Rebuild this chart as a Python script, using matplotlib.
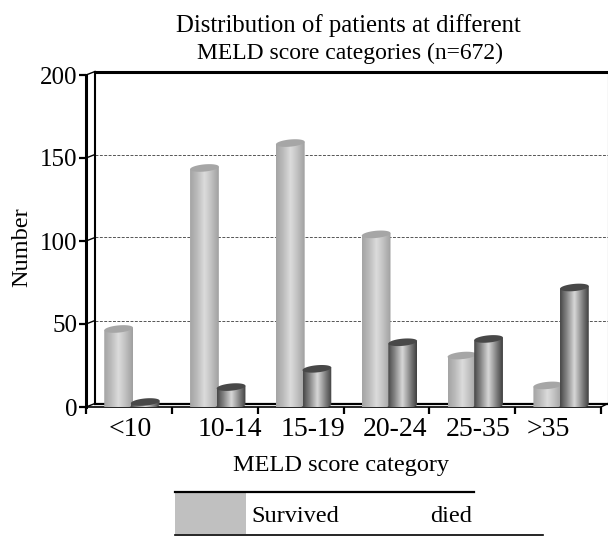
import numpy as np
import matplotlib
matplotlib.use("Agg")
import matplotlib.pyplot as plt
from matplotlib.patches import Polygon
from matplotlib.colors import LinearSegmentedColormap

plt.rcParams['font.family'] = ['Liberation Serif', 'DejaVu Serif']

categories = ['<10', '10-14', '15-19', '20-24', '25-35', '>35']
survived = [45, 142, 157, 102, 29, 11]
died = [1, 10, 21, 37, 39, 70]
y_ticks = [0, 50, 100, 150, 200]
grid_levels = [50, 100, 150]
label_px = [130, 230, 313, 395, 478, 548]

W, H = 608, 536
fig = plt.figure(figsize=(W/100, H/100), dpi=100)
x0, x1, y0, y1 = 86, 601, 407, 75
ax = fig.add_axes([x0/W, 1-y0/H, (x1-x0)/W, (y0-y1)/H])
ax.set_xlim(0, 6)
ax.set_ylim(0, 200)
ax.patch.set_alpha(0)
for s in ax.spines.values():
    s.set_visible(False)

dx, dy = 9/86, 3.5*200/332   # depth offset of the back wall
xr = 6 + 7/86

# wall + floor
ax.plot([dx, dx], [dy, 200+dy], color='k', lw=1.5, clip_on=False, zorder=2)
ax.plot([dx, xr], [200+dy, 200+dy], color='k', lw=2.2, clip_on=False, zorder=2)
ax.plot([xr, xr], [dy, 200+dy], color='#777777', lw=0.8, clip_on=False, zorder=1)
ax.plot([0, 0], [0, 200], color='k', lw=2.2, clip_on=False, zorder=2)
ax.plot([0, 6], [0, 0], color='k', lw=1.2, clip_on=False, zorder=2)
ax.plot([dx, xr], [dy, dy], color='k', lw=1.6, clip_on=False, zorder=2)
ax.plot([6, xr], [0, dy], color='k', lw=1, clip_on=False, zorder=2)
for v in grid_levels:
    ax.plot([dx, xr], [v+dy, v+dy], color='#555555', lw=0.7,
            dashes=(3, 1.5), clip_on=False, zorder=1)
for v in y_ticks:
    ax.plot([0, dx], [v, v+dy], color='k', lw=1, clip_on=False, zorder=2)

ax.set_yticks(y_ticks)
ax.set_xticks(range(7))
ax.set_xticklabels([])
ax.tick_params(axis='both', length=5, width=1.6, labelsize=18, pad=1)
ax.tick_params(axis='x', direction='out')

for c, px in zip(categories, label_px):
    fig.text(px/W, 1-430/H, c, ha='center', va='center', fontsize=20)

fig.text(348/W, 1-26/H, 'Distribution of patients at different', ha='center', va='center', fontsize=17.8)
fig.text(350/W, 1-53/H, 'MELD score categories (n=672)', ha='center', va='center', fontsize=17)
fig.text(341/W, 1-466/H, 'MELD score category', ha='center', va='center', fontsize=17.5)
fig.text(22/W, 1-247/H, 'Number', rotation=90, ha='center', va='center', fontsize=17.5)

# cylinders
cm_s = LinearSegmentedColormap.from_list('s', ['#a4a4a4', '#bcbcbc', '#dcdcdc', '#c0c0c0', '#a0a0a0'])
cm_d = LinearSegmentedColormap.from_list('d', ['#484848', '#8c8c8c', '#d8d8d8', '#8a8a8a', '#404040'])
grad = np.linspace(0, 1, 64).reshape(1, -1)
width = 0.335
a = width/2
b = 3.6*200/332
tilt = 1.3*200/332
t = np.linspace(0, 2*np.pi, 80)

def cylinder(cx, v, cmap, top, z):
    base = 0.8
    ytop = v + 2.0
    tt = np.linspace(np.pi, 2*np.pi, 40)
    xs = cx + a*np.cos(tt)
    yb = base + b*np.sin(tt) + tilt*np.cos(tt)
    outline = list(zip(xs, yb)) + [(cx+a, ytop+tilt), (cx-a, ytop-tilt)]
    poly = Polygon(outline, closed=True, transform=ax.transData, fc='none', ec='none')
    ax.add_patch(poly)
    im = ax.imshow(grad, extent=[cx-a, cx+a, base-b-tilt, ytop+tilt], aspect='auto',
                   cmap=cmap, vmin=0, vmax=1, zorder=z, interpolation='bilinear')
    im.set_clip_path(poly)
    ax.add_patch(Polygon(np.c_[cx + a*np.cos(t), ytop + b*np.sin(t) + tilt*np.cos(t)],
                         closed=True, fc=top, ec='none', zorder=z+0.1, clip_on=False))

for i, (s, d) in enumerate(zip(survived, died)):
    cylinder(i+0.38, s, cm_s, '#a6a6a6', 3)
    cylinder(i+0.69, d, cm_d, '#484848', 4)
ax.set_xlim(0, 6)
ax.set_ylim(0, 200)

# legend table
fig.add_artist(plt.Rectangle((175/W, 1-534/H), 71/W, 42/H, fc='#c0c0c0', ec='none', transform=fig.transFigure))
fig.add_artist(plt.Line2D([175/W, 474/W], [1-492/H, 1-492/H], color='k', lw=1.6))
fig.add_artist(plt.Line2D([175/W, 543/W], [1-534.5/H, 1-534.5/H], color='k', lw=1.2))
fig.text(251/W, 1-517/H, 'Survived', ha='left', va='center', fontsize=17.5)
fig.text(472/W, 1-517/H, 'died', ha='right', va='center', fontsize=17.5)

fig.savefig('out.png', dpi=100)
